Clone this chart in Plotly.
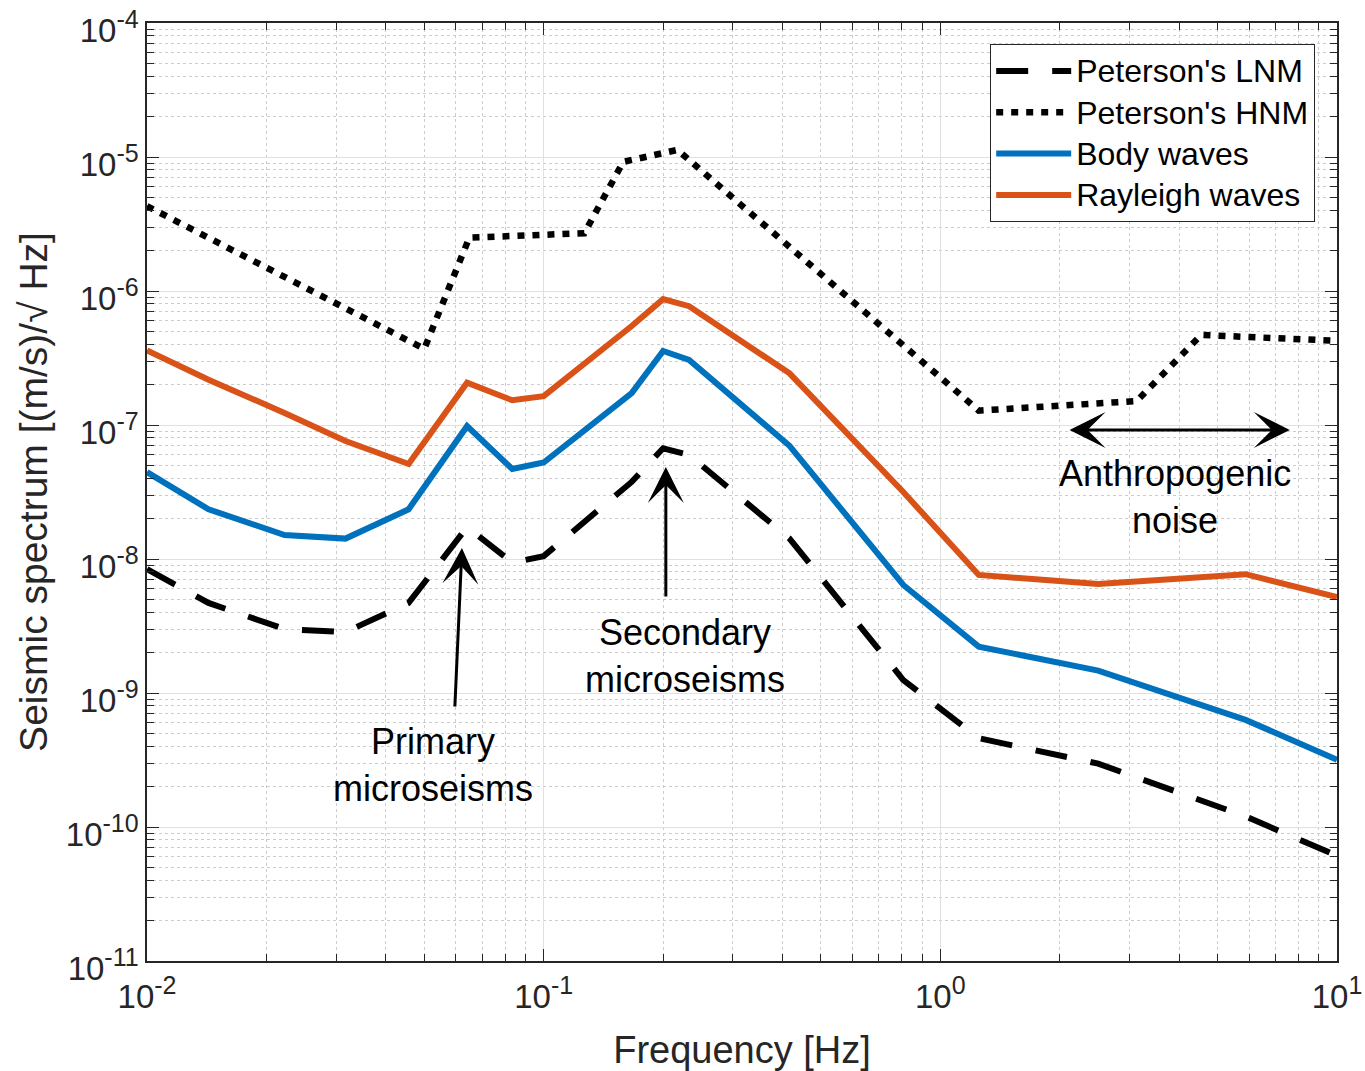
import plotly.graph_objects as go

# ---- data ----
freq = [0.01, 0.01429, 0.02222, 0.03165, 0.04566, 0.0641, 0.08333, 0.1,
        0.1667, 0.2, 0.2326, 0.4167, 0.8065, 1.25, 2.5, 5.882, 10]
lnm = [8.4e-9, 4.7e-9, 3.0e-9, 2.85e-9, 4.7e-9, 1.73e-8, 9.4e-9, 1.05e-8,
       3.76e-8, 6.7e-8, 5.97e-8, 1.42e-8, 1.25e-9, 4.6e-10, 2.97e-10, 1.2e-10, 6.1e-11]
body = [4.45e-8, 2.35e-8, 1.51e-8, 1.42e-8, 2.35e-8, 9.8e-8, 4.7e-8, 5.25e-8,
        1.73e-7, 3.57e-7, 3.06e-7, 7.0e-8, 6.4e-9, 2.22e-9, 1.47e-9, 6.3e-10, 3.18e-10]
rayleigh = [3.6e-7, 2.18e-7, 1.23e-7, 7.6e-8, 5.12e-8, 2.07e-7, 1.53e-7, 1.64e-7,
            5.48e-7, 8.7e-7, 7.7e-7, 2.43e-7, 3.16e-8, 7.6e-9, 6.5e-9, 7.7e-9, 5.2e-9]
freq_hnm = [0.01, 0.05, 0.06494, 0.1266, 0.1587, 0.2174, 1.25, 3.125, 4.545, 10]
hnm = [4.3e-6, 3.7e-7, 2.5e-6, 2.7e-6, 9.2e-6, 1.13e-5, 1.28e-7, 1.51e-7, 4.7e-7, 4.25e-7]

series_names = ["Peterson's LNM", "Peterson's HNM", "Body waves", "Rayleigh waves"]
x_exps = [-2, -1, 0, 1]
y_exps = [-11, -10, -9, -8, -7, -6, -5, -4]

FONT = "Liberation Sans, Arial, Helvetica, sans-serif"
AXC = "#262626"
SUP = "<sup><span style='font-size:25px'>%d</span></sup>"


def tick_text(e):
    return "10" + SUP % e


def leg(name):
    return "<span style='font-size:32px'>%s</span>" % name


fig = go.Figure()
fig.add_trace(go.Scatter(x=freq, y=lnm, mode="lines", name=leg(series_names[0]),
                         line=dict(color="black", width=6, dash="32px,24px")))
fig.add_trace(go.Scatter(x=freq_hnm, y=hnm, mode="lines", name=leg(series_names[1]),
                         line=dict(color="black", width=6.5, dash="7px,8px")))
fig.add_trace(go.Scatter(x=freq, y=body, mode="lines", name=leg(series_names[2]),
                         line=dict(color="#0072BD", width=6)))
fig.add_trace(go.Scatter(x=freq, y=rayleigh, mode="lines", name=leg(series_names[3]),
                         line=dict(color="#D95319", width=6)))

x_minor = [m * 10.0 ** k for k in (-2, -1, 0) for m in range(2, 10)]
y_minor = [m * 10.0 ** k for k in range(-11, -4) for m in range(2, 10)]

axis_common = dict(
    showline=True, linecolor=AXC, linewidth=1.5, mirror="ticks",
    ticks="inside", ticklen=12, tickwidth=1.2, tickcolor=AXC,
    showgrid=True, gridcolor="#e0e0e0", gridwidth=1,
    tickfont=dict(family=FONT, size=33, color=AXC),
    zeroline=False, automargin=False, ticklabeloverflow="allow",
)

fig.update_xaxes(
    type="log", range=[-2, 1],
    tickmode="array", tickvals=[10.0 ** e for e in x_exps],
    ticktext=[tick_text(e) for e in x_exps],
    ticklabelstandoff=6,
    minor=dict(tickvals=x_minor, ticks="inside", ticklen=7, tickcolor=AXC,
               showgrid=True, gridcolor="#cccccc", griddash="dot", gridwidth=1),
    title=dict(text="Frequency [Hz]", font=dict(family=FONT, size=38, color=AXC), standoff=22),
    **axis_common,
)
fig.update_yaxes(
    type="log", range=[-11, -4],
    tickmode="array", tickvals=[10.0 ** e for e in y_exps],
    ticktext=[tick_text(e) for e in y_exps],
    ticklabelshift=7,
    minor=dict(tickvals=y_minor, ticks="inside", ticklen=7, tickcolor=AXC,
               showgrid=True, gridcolor="#cccccc", griddash="dot", gridwidth=1),
    title=dict(text="Seismic spectrum [(m/s)/\u221a Hz]", font=dict(family=FONT, size=39, color=AXC), standoff=6),
    **axis_common,
)

ann_font = dict(family=FONT, size=36, color="black")
ARW = dict(showarrow=True, arrowhead=3, arrowsize=2.0, arrowwidth=3, arrowcolor="black")
annotations = [
    # Primary microseisms arrow
    dict(x=-1.206, y=-7.918, ax=-1.224, ay=-9.112, xref="x", yref="y", axref="x", ayref="y",
         text="", **ARW),
    dict(x=-1.279, y=-9.537, xref="x", yref="y", text="Primary<br>microseisms",
         showarrow=False, font=ann_font),
    # Secondary microseisms arrow
    dict(x=-0.692, y=-7.313, ax=-0.692, ay=-8.291, xref="x", yref="y", axref="x", ayref="y",
         text="", **ARW),
    dict(x=-0.644, y=-8.724, xref="x", yref="y", text="Secondary<br>microseisms",
         showarrow=False, font=ann_font),
    # Anthropogenic double arrow
    dict(x=0.881, y=-7.037, ax=0.322, ay=-7.037, xref="x", yref="y", axref="x", ayref="y",
         text="", startarrowhead=3, arrowside="end+start", startarrowsize=2.0, **ARW),
    dict(x=0.591, y=-7.537, xref="x", yref="y", text="Anthropogenic<br>noise",
         showarrow=False, font=ann_font),
]

fig.update_layout(
    width=1365, height=1071,
    margin=dict(l=147, r=28, t=23, b=110),
    paper_bgcolor="white", plot_bgcolor="white",
    font=dict(family=FONT, color=AXC),
    annotations=annotations,
    legend=dict(x=0.9815, y=0.9776, xanchor="right", yanchor="top",
                bordercolor=AXC, borderwidth=1.2, bgcolor="white",
                font=dict(family=FONT, size=29.5, color="black"),
                itemwidth=75, tracegroupgap=0),
    showlegend=True,
)

fig.write_html("out.html")
